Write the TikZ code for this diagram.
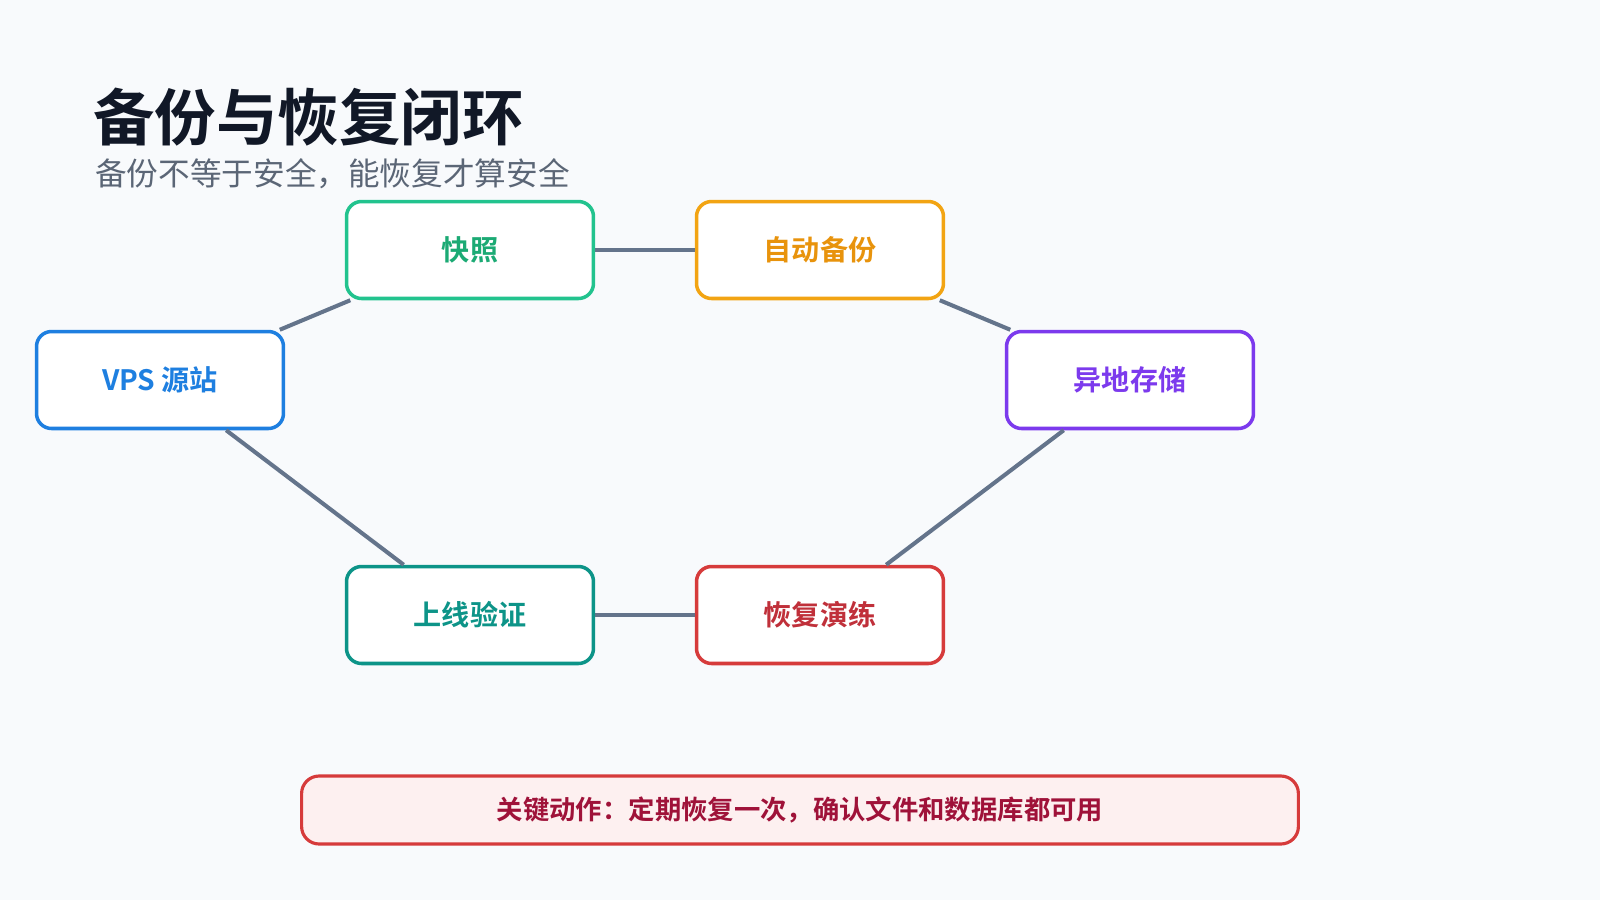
\documentclass[tikz,border=0pt]{standalone}
\usepackage{fontspec}
\setmainfont{Noto Sans CJK SC}
\newfontfamily\cjkb[BoldFont={Noto Sans CJK SC Bold}]{Noto Sans CJK SC}
\definecolor{bg}{HTML}{F8FAFC}
\definecolor{edge}{HTML}{64748B}
\definecolor{cgreen}{HTML}{22C38E}\definecolor{tgreen}{HTML}{1BAA74}
\definecolor{corange}{HTML}{F2A413}\definecolor{torange}{HTML}{E8930C}
\definecolor{cpurple}{HTML}{7C3AED}
\definecolor{cblue}{HTML}{1E7FE0}
\definecolor{cteal}{HTML}{0D9488}
\definecolor{cred}{HTML}{D63B3B}\definecolor{tred}{HTML}{C0303A}
\definecolor{nfill}{HTML}{FDF0F0}\definecolor{ntext}{HTML}{9F1239}
\definecolor{ttl}{HTML}{111827}\definecolor{sub}{HTML}{5B6676}
\begin{document}
\begin{tikzpicture}[x=0.02cm,y=-0.02cm,
  box/.style={draw=#1,line width=2pt,rounded corners=0.3cm,fill=white,minimum width=4.94cm,minimum height=1.94cm,font=\cjkb\bfseries\fontsize{16}{18}\selectfont},
  link/.style={draw=edge,line width=2.3pt}]
\fill[bg] (0,0) rectangle (1600,900);
\useasboundingbox (0,0) rectangle (1600,900);
\node[anchor=base west,inner sep=0,text=ttl,font=\cjkb\bfseries\fontsize{35}{40}\selectfont] (title) at (93,140) {备份与恢复闭环};
\node[anchor=base west,inner sep=0,text=sub,font=\fontsize{18}{22}\selectfont] (subt) at (95,185) {备份不等于安全，能恢复才算安全};
\node[box=cblue,text=cblue] (vps) at (160,380) {VPS 源站};
\node[box=cgreen,text=tgreen] (snap) at (470,250) {快照};
\node[box=corange,text=torange] (auto) at (820,250) {自动备份};
\node[box=cpurple,text=cpurple] (off) at (1130,380) {异地存储};
\node[box=cred,text=tred] (drill) at (820,615) {恢复演练};
\node[box=cteal,text=cteal] (online) at (470,615) {上线验证};
\begin{scope}[on background layer/.style={}]
\end{scope}
\path[link] (vps) -- (snap);
\path[link] (snap) -- (auto);
\path[link] (auto) -- (off);
\path[link] (off) -- (drill);
\path[link] (drill) -- (online);
\path[link] (online) -- (vps);
\node[draw=cred,line width=1.8pt,fill=nfill,rounded corners=0.35cm,minimum width=19.94cm,minimum height=1.36cm,text=ntext,font=\cjkb\bfseries\fontsize{15}{18}\selectfont] (note) at (800,810) {关键动作：定期恢复一次，确认文件和数据库都可用};
\end{tikzpicture}
\end{document}
